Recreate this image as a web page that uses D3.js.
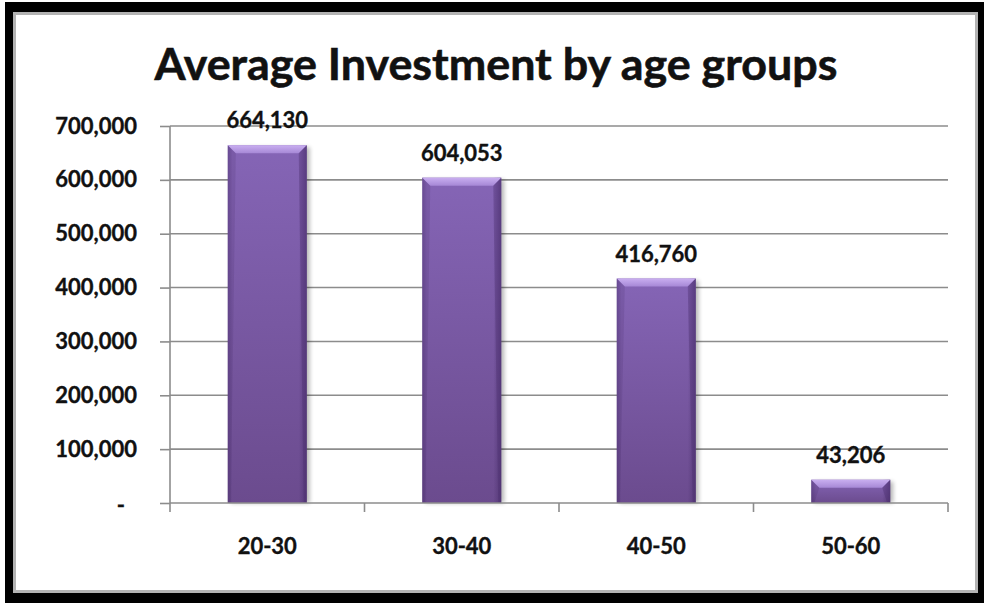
<!DOCTYPE html>
<html>
<head>
<meta charset="utf-8">
<script src="https://cdn.jsdelivr.net/npm/d3@7"></script>
<style>
  html, body { margin: 0; padding: 0; background: #ffffff; }
  svg { display: block; }
  text { font-family: "Lato", "Open Sans", sans-serif; font-weight: 700; fill: #111111; }
  .lbl { stroke: #111111; stroke-width: 0.35px; }
</style>
</head>
<body>
<svg id="chart" width="984" height="603"></svg>
<script>
// Chart data
const ageGroups = ["20-30", "30-40", "40-50", "50-60"];
const avgInvestment = [664130, 604053, 416760, 43206];
const yTicks = [0, 100000, 200000, 300000, 400000, 500000, 600000, 700000];
const chartTitle = "Average Investment by age groups";

const W = 984, H = 603;
const svg = d3.select("#chart");

// Frame: thick black border with a thin grey inner rule
svg.append("rect").attr("x", 5).attr("y", 2).attr("width", W - 5).attr("height", H - 2).attr("fill", "#000");
svg.append("rect").attr("x", 13).attr("y", 12).attr("width", 965).attr("height", 581).attr("fill", "#b3b3b3");
svg.append("rect").attr("x", 16).attr("y", 15).attr("width", 959).attr("height", 575).attr("fill", "#fff");

// Plot area
const plot = { left: 170, right: 948, top: 126, bottom: 503 };

const x = d3.scaleBand()
  .domain(ageGroups)
  .range([plot.left, plot.right])
  .paddingInner(0.594)
  .paddingOuter(0.297);

const y = d3.scaleLinear()
  .domain([0, 700000])
  .range([plot.bottom, plot.top]);

const defs = svg.append("defs");

const faceGrad = defs.append("linearGradient").attr("id", "barFace")
  .attr("x1", 0).attr("y1", 0).attr("x2", 0).attr("y2", 1);
faceGrad.append("stop").attr("offset", "0%").attr("stop-color", "#8565b6");
faceGrad.append("stop").attr("offset", "100%").attr("stop-color", "#6b4b8e");

const edgeGrad = defs.append("linearGradient").attr("id", "barEdge")
  .attr("x1", 0).attr("y1", 0).attr("x2", 1).attr("y2", 0);
edgeGrad.append("stop").attr("offset", "0%").attr("stop-color", "#3e2560").attr("stop-opacity", 0.3);
edgeGrad.append("stop").attr("offset", "6%").attr("stop-color", "#3e2560").attr("stop-opacity", 0.0);
edgeGrad.append("stop").attr("offset", "90%").attr("stop-color", "#3e2560").attr("stop-opacity", 0.0);
edgeGrad.append("stop").attr("offset", "100%").attr("stop-color", "#3e2560").attr("stop-opacity", 0.5);

const bevelGrad = defs.append("linearGradient").attr("id", "barBevel")
  .attr("x1", 0).attr("y1", 0).attr("x2", 0).attr("y2", 1);
bevelGrad.append("stop").attr("offset", "0%").attr("stop-color", "#c9aef0");
bevelGrad.append("stop").attr("offset", "100%").attr("stop-color", "#a688d6");

const shadow = defs.append("filter").attr("id", "barShadow")
  .attr("x", "-20%").attr("y", "-20%").attr("width", "140%").attr("height", "140%");
shadow.append("feGaussianBlur").attr("stdDeviation", 2);

// Horizontal gridlines and y axis
const yAxis = d3.axisLeft(y)
  .tickValues(yTicks)
  .tickSize(10)
  .tickPadding(23)
  .tickFormat(d => d === 0 ? "-" : d3.format(",")(d));

const yG = svg.append("g")
  .attr("transform", `translate(${plot.left},0)`)
  .call(yAxis);
yG.select(".domain").remove();
yG.selectAll(".tick line").attr("stroke", "#8c8c8c").attr("stroke-width", 1.6);
yG.selectAll(".tick text")
  .attr("class", "lbl")
  .style("font-size", "22px")
  .attr("fill", "#111");
yG.selectAll(".tick").filter(d => d === 0).select("text").attr("dx", -12).attr("dy", "0.45em");

svg.append("g").selectAll("line")
  .data(yTicks.filter(d => d > 0))
  .join("line")
  .attr("x1", plot.left).attr("x2", plot.right)
  .attr("y1", d => y(d)).attr("y2", d => y(d))
  .attr("stroke", "#8c8c8c").attr("stroke-width", 1.6);

// Category boundaries for x ticks
const boundaries = ageGroups.map(g => x(g) - x.step() * x.paddingInner() / 2)
  .concat([plot.right]);

// Bars
const bars = svg.append("g").selectAll("g")
  .data(ageGroups.map((g, i) => ({ group: g, value: avgInvestment[i] })))
  .join("g");

bars.append("rect")
  .attr("x", d => x(d.group) + 3)
  .attr("y", d => y(d.value) + 2)
  .attr("width", x.bandwidth())
  .attr("height", d => y(0) - y(d.value) - 2)
  .attr("fill", "#000").attr("opacity", 0.28)
  .attr("filter", "url(#barShadow)");

bars.append("rect")
  .attr("x", d => x(d.group))
  .attr("y", d => y(d.value))
  .attr("width", x.bandwidth())
  .attr("height", d => y(0) - y(d.value))
  .attr("fill", "url(#barFace)");

bars.append("rect")
  .attr("x", d => x(d.group))
  .attr("y", d => y(d.value))
  .attr("width", x.bandwidth())
  .attr("height", d => y(0) - y(d.value))
  .attr("fill", "url(#barEdge)");

const bev = 8;
bars.append("polygon")
  .attr("points", d => {
    const x0 = x(d.group), x1 = x0 + x.bandwidth(), t = y(d.value);
    return [[x0, t], [x1, t], [x1 - bev, t + bev], [x0 + bev, t + bev]].map(p => p.join(",")).join(" ");
  })
  .attr("fill", "url(#barBevel)");

bars.append("polygon")
  .attr("points", d => {
    const x0 = x(d.group), x1 = x0 + x.bandwidth(), t = y(d.value);
    return [[x1, t], [x1, y(0)], [x1 - 3, y(0)], [x1 - bev, t + bev]].map(p => p.join(",")).join(" ");
  })
  .attr("fill", "#4a2f6c").attr("opacity", 0.35);

bars.append("polygon")
  .attr("points", d => {
    const x0 = x(d.group), t = y(d.value);
    return [[x0, t], [x0 + bev, t + bev], [x0 + 3, y(0)], [x0, y(0)]].map(p => p.join(",")).join(" ");
  })
  .attr("fill", "#4a2f6c").attr("opacity", 0.18);

// Value labels above bars
bars.append("text")
  .attr("class", "lbl")
  .attr("x", d => x(d.group) + x.bandwidth() / 2)
  .attr("y", d => y(d.value) - 17)
  .attr("text-anchor", "middle")
  .style("font-size", "22px")
  .text(d => d3.format(",")(d.value));

// X axis baseline, boundary ticks and category labels
svg.append("line")
  .attr("x1", plot.left).attr("x2", plot.right)
  .attr("y1", y(0)).attr("y2", y(0))
  .attr("stroke", "#8c8c8c").attr("stroke-width", 1.6);
svg.append("line")
  .attr("x1", plot.left).attr("x2", plot.left)
  .attr("y1", plot.top).attr("y2", y(0))
  .attr("stroke", "#8c8c8c").attr("stroke-width", 1.6);
svg.append("g").selectAll("line")
  .data(boundaries)
  .join("line")
  .attr("x1", d => d).attr("x2", d => d)
  .attr("y1", y(0)).attr("y2", y(0) + 9)
  .attr("stroke", "#8c8c8c").attr("stroke-width", 1.6);

svg.append("g").selectAll("text")
  .data(ageGroups)
  .join("text")
  .attr("class", "lbl")
  .attr("x", d => x(d) + x.bandwidth() / 2)
  .attr("y", 554)
  .attr("text-anchor", "middle")
  .style("font-size", "22px")
  .text(d => d);

// Title, sized to span the header width
const title = svg.append("text")
  .attr("x", 496)
  .attr("y", 80)
  .attr("text-anchor", "middle")
  .style("font-size", "100px")
  .style("stroke", "#111")
  .style("stroke-width", "0.6px")
  .text(chartTitle);
const tw = title.node().getComputedTextLength();
title.style("font-size", (100 * 683 / tw).toFixed(1) + "px");
</script>
</body>
</html>
